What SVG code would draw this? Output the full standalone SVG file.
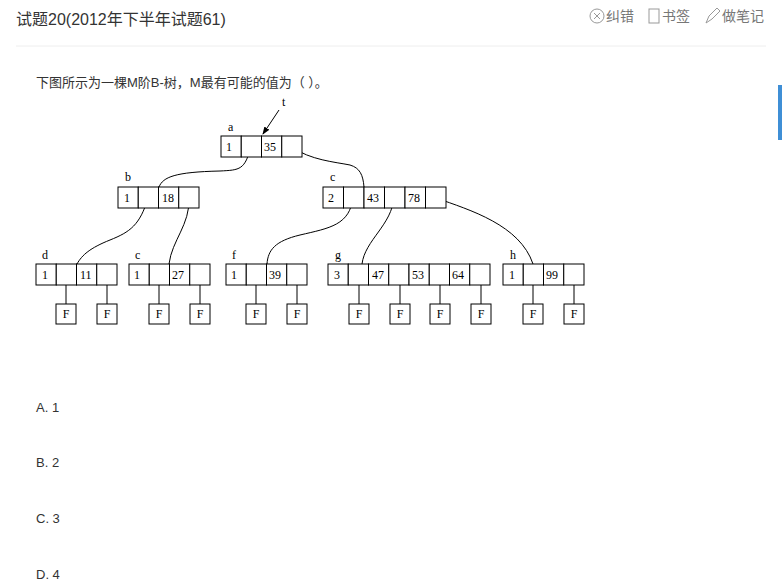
<svg xmlns="http://www.w3.org/2000/svg" width="782" height="585" viewBox="0 0 782 585">
<style>
.ui{font-family:"Liberation Sans","Noto Sans CJK SC",sans-serif;fill:#333}
.t{font-family:"Liberation Serif","Noto Sans CJK SC",serif;font-size:12px;fill:#000}
.cell{fill:#fff;stroke:#000;stroke-width:1}
.ln{fill:none;stroke:#000;stroke-width:1}
</style>
<defs><marker id="ar" markerWidth="8" markerHeight="8" refX="7" refY="4" orient="auto"><path d="M0,1 L8,4 L0,7 z" fill="#000"/></marker></defs>
<rect width="782" height="585" fill="#fff"/>
<rect x="778" y="85" width="4" height="55" fill="#3f8fd6"/>
<text class="ui" x="16" y="25" font-size="16">试题20(2012年下半年试题61)</text>
<g class="ui" font-size="14" fill="#888">
<circle cx="597" cy="16" r="7" fill="none" stroke="#999"/><path d="M594,13 L600,19 M600,13 L594,19" stroke="#999"/>
<text x="606" y="21" fill="#777">纠错</text>
<rect x="649" y="9" width="10" height="14" fill="none" stroke="#999"/>
<text x="662" y="21" fill="#777">书签</text>
<path d="M706,23 L709,16 L717,8 L720,11 L712,19 Z" fill="none" stroke="#999"/>
<text x="722" y="21" fill="#777">做笔记</text>
</g>
<line x1="16" y1="46" x2="766" y2="46" stroke="#eee"/>
<text class="ui" x="36" y="87" font-size="13">下图所示为一棵M阶B-树，M最有可能的值为（    ）。</text>
<g class="ui" font-size="13">
<text x="36" y="412">A. 1</text><text x="36" y="467">B. 2</text><text x="36" y="523">C. 3</text><text x="36" y="579">D. 4</text>
</g>
<g id="connectors">
<path class="ln" d="M251,146 C245,170 240,170 220,171 C175,172 163,177 159,187"/>
<path class="ln" d="M148,198 C140,225 130,232 110,240 C90,248 82,255 77,264"/>
<path class="ln" d="M189,198 C190,225 172,240 169,264"/>
<path class="ln" d="M292,147 C310,160 335,162 350,165 C360,168 363,175 364,187"/>
<path class="ln" d="M353,197 C350,225 330,228 300,235 C275,241 268,250 267,264"/>
<path class="ln" d="M394,197 C392,225 365,240 362,264"/>
<path class="ln" d="M436,198 C470,210 520,225 533,264"/>
<path class="ln" d="M279,110 L263,134" marker-end="url(#ar)"/>
<g class="ln">
<path d="M66,274V304M107,274V304M159,274V304M200,274V304M256,274V304M297,274V304M359,274V304M400,274V304M440,274V304M481,274V304M533,274V304M574,274V304"/>
</g>
</g>
<text class="t" x="282" y="106">t</text>
<g id="a"><text class="t" x="228" y="131">a</text>
<rect class="cell" x="221" y="136" width="20.25" height="21"/><rect class="cell" x="241.25" y="136" width="20.25" height="21"/><rect class="cell" x="261.5" y="136" width="20.25" height="21"/><rect class="cell" x="281.75" y="136" width="20.25" height="21"/>
<text class="t" x="226" y="151">1</text><text class="t" x="264" y="151">35</text></g>
<g id="b"><text class="t" x="125" y="181">b</text>
<rect class="cell" x="118" y="187" width="20.25" height="21"/><rect class="cell" x="138.25" y="187" width="20.25" height="21"/><rect class="cell" x="158.5" y="187" width="20.25" height="21"/><rect class="cell" x="178.75" y="187" width="20.25" height="21"/>
<text class="t" x="124" y="202">1</text><text class="t" x="162" y="202">18</text></g>
<g id="c1"><text class="t" x="330" y="181">c</text>
<rect class="cell" x="323" y="187" width="20.5" height="21"/><rect class="cell" x="343.5" y="187" width="20.5" height="21"/><rect class="cell" x="364" y="187" width="20.5" height="21"/><rect class="cell" x="384.5" y="187" width="20.5" height="21"/><rect class="cell" x="405" y="187" width="20.5" height="21"/><rect class="cell" x="425.5" y="187" width="20.5" height="21"/>
<text class="t" x="328" y="202">2</text><text class="t" x="367" y="202">43</text><text class="t" x="408" y="202">78</text></g>
<g id="d"><text class="t" x="42" y="259">d</text>
<rect class="cell" x="36" y="264" width="20.25" height="21"/><rect class="cell" x="56.25" y="264" width="20.25" height="21"/><rect class="cell" x="76.5" y="264" width="20.25" height="21"/><rect class="cell" x="96.75" y="264" width="20.25" height="21"/>
<text class="t" x="42" y="279">1</text><text class="t" x="80" y="279">11</text></g>
<g id="c2"><text class="t" x="135" y="259">c</text>
<rect class="cell" x="129" y="264" width="20.25" height="21"/><rect class="cell" x="149.25" y="264" width="20.25" height="21"/><rect class="cell" x="169.5" y="264" width="20.25" height="21"/><rect class="cell" x="189.75" y="264" width="20.25" height="21"/>
<text class="t" x="134" y="279">1</text><text class="t" x="172" y="279">27</text></g>
<g id="f"><text class="t" x="232" y="259">f</text>
<rect class="cell" x="226" y="264" width="20.25" height="21"/><rect class="cell" x="246.25" y="264" width="20.25" height="21"/><rect class="cell" x="266.5" y="264" width="20.25" height="21"/><rect class="cell" x="286.75" y="264" width="20.25" height="21"/>
<text class="t" x="231" y="279">1</text><text class="t" x="269" y="279">39</text></g>
<g id="g"><text class="t" x="335" y="259">g</text>
<rect class="cell" x="328" y="264" width="20.25" height="21"/><rect class="cell" x="348.25" y="264" width="20.25" height="21"/><rect class="cell" x="368.5" y="264" width="20.25" height="21"/><rect class="cell" x="388.75" y="264" width="20.25" height="21"/><rect class="cell" x="409" y="264" width="20.25" height="21"/><rect class="cell" x="429.25" y="264" width="20.25" height="21"/><rect class="cell" x="449.5" y="264" width="20.25" height="21"/><rect class="cell" x="469.75" y="264" width="20.25" height="21"/>
<text class="t" x="334" y="279">3</text><text class="t" x="372" y="279">47</text><text class="t" x="412" y="279">53</text><text class="t" x="452" y="279">64</text></g>
<g id="h"><text class="t" x="510" y="259">h</text>
<rect class="cell" x="503" y="264" width="20.25" height="21"/><rect class="cell" x="523.25" y="264" width="20.25" height="21"/><rect class="cell" x="543.5" y="264" width="20.25" height="21"/><rect class="cell" x="563.75" y="264" width="20.25" height="21"/>
<text class="t" x="509" y="279">1</text><text class="t" x="546" y="279">99</text></g>
<g id="F">
<rect class="cell" x="56" y="304" width="20" height="20"/><rect class="cell" x="97" y="304" width="20" height="20"/><rect class="cell" x="149" y="304" width="20" height="20"/><rect class="cell" x="190" y="304" width="20" height="20"/><rect class="cell" x="246" y="304" width="20" height="20"/><rect class="cell" x="287" y="304" width="20" height="20"/><rect class="cell" x="349" y="304" width="20" height="20"/><rect class="cell" x="390" y="304" width="20" height="20"/><rect class="cell" x="430" y="304" width="20" height="20"/><rect class="cell" x="471" y="304" width="20" height="20"/><rect class="cell" x="523" y="304" width="20" height="20"/><rect class="cell" x="564" y="304" width="20" height="20"/>
<g class="t" text-anchor="middle"><text x="66" y="318">F</text><text x="107" y="318">F</text><text x="159" y="318">F</text><text x="200" y="318">F</text><text x="256" y="318">F</text><text x="297" y="318">F</text><text x="359" y="318">F</text><text x="400" y="318">F</text><text x="440" y="318">F</text><text x="481" y="318">F</text><text x="533" y="318">F</text><text x="574" y="318">F</text></g>
</g>
</svg>
